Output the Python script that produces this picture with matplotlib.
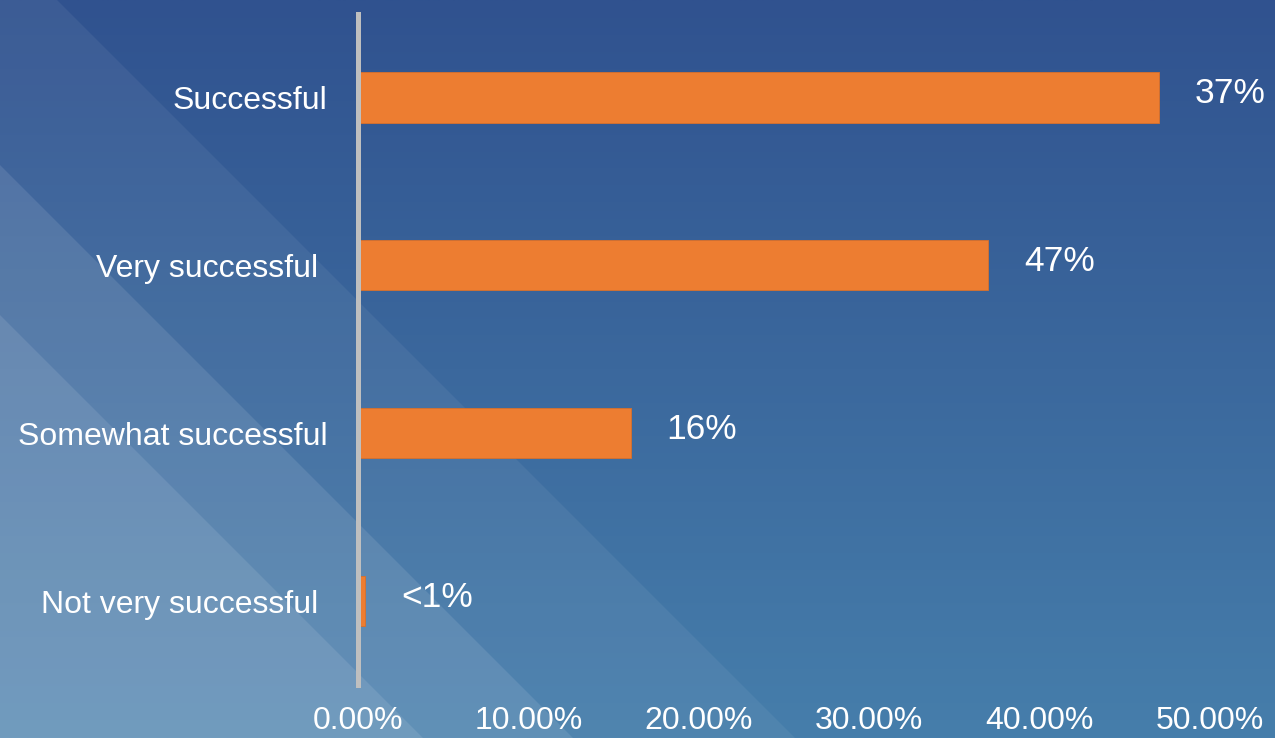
import numpy as np
import matplotlib
matplotlib.use('Agg')
import matplotlib.pyplot as plt
from matplotlib.patches import Polygon
from matplotlib.transforms import ScaledTranslation

plt.rcParams['font.family'] = ['Liberation Sans', 'DejaVu Sans']

# data, top to bottom as drawn
categories = ['Successful', 'Very successful ', 'Somewhat successful', 'Not very successful ']
values = [47.0, 37.0, 16.0, 0.4]
value_labels = ['37%', '47%', '16%', '<1%']
xticks = [0, 10, 20, 30, 40, 50]
xtick_labels = ['0.00%', '10.00%', '20.00%', '30.00%', '40.00%', '50.00%']

W, H = 1275, 738
fig = plt.figure(figsize=(W / 100, H / 100), dpi=100)

# background: vertical blue gradient with light diagonal bands in the lower left
bg = fig.add_axes([0, 0, 1, 1], zorder=0)
bg.set_xlim(0, W)
bg.set_ylim(H, 0)
bg.axis('off')
top = np.array([48, 82, 143]) / 255
bottom = np.array([70, 126, 171]) / 255
t = np.linspace(0, 1, 256)[:, None]
grad = top + (bottom - top) * t
bg.imshow(grad[:, None, :].repeat(2, axis=1), extent=[0, W, H, 0], aspect='auto')
# band edges follow x - y = c (pixel coords, y down)
for c, a in [(57, 0.06), (-165, 0.10), (-315, 0.10)]:
    poly = [(0, -c), (0, H + 50), (H + c + 50, H + 50)]
    bg.add_patch(Polygon(poly, closed=True, facecolor='white', alpha=a, edgecolor='none'))

ax = fig.add_axes([358 / W, 53 / H, 852 / W, 671.5 / H], zorder=1)
ax.patch.set_alpha(0)

y = np.arange(len(categories))
ax.barh(y, values, height=0.3, color='#ED7D31', edgecolor='#D8702B', linewidth=0.6)
ax.set_ylim(len(categories) - 0.5, -0.5)
ax.set_xlim(0, 50)

for yi, v, lab in zip(y, values, value_labels):
    ax.annotate(lab, (v, yi), xytext=(36, 4), textcoords='offset pixels',
                ha='left', va='center', color='white', fontsize=25.5)

ax.set_yticks(y)
ax.set_yticklabels(categories, fontsize=23, color='white')
for lab in ax.get_yticklabels():
    if lab.get_text().endswith(' '):
        lab.set_transform(lab.get_transform() + ScaledTranslation(-9 / 100, 0, fig.dpi_scale_trans))
ax.set_xticks(xticks)
ax.set_xticklabels(xtick_labels, fontsize=23, color='white')
ax.tick_params(axis='y', length=0, pad=22)
ax.tick_params(axis='x', length=0, pad=15)

for s in ['top', 'right', 'bottom']:
    ax.spines[s].set_visible(False)
ax.spines['left'].set_color('#BFBFBF')
ax.spines['left'].set_linewidth(3.6)

fig.savefig('out.png', dpi=100)
